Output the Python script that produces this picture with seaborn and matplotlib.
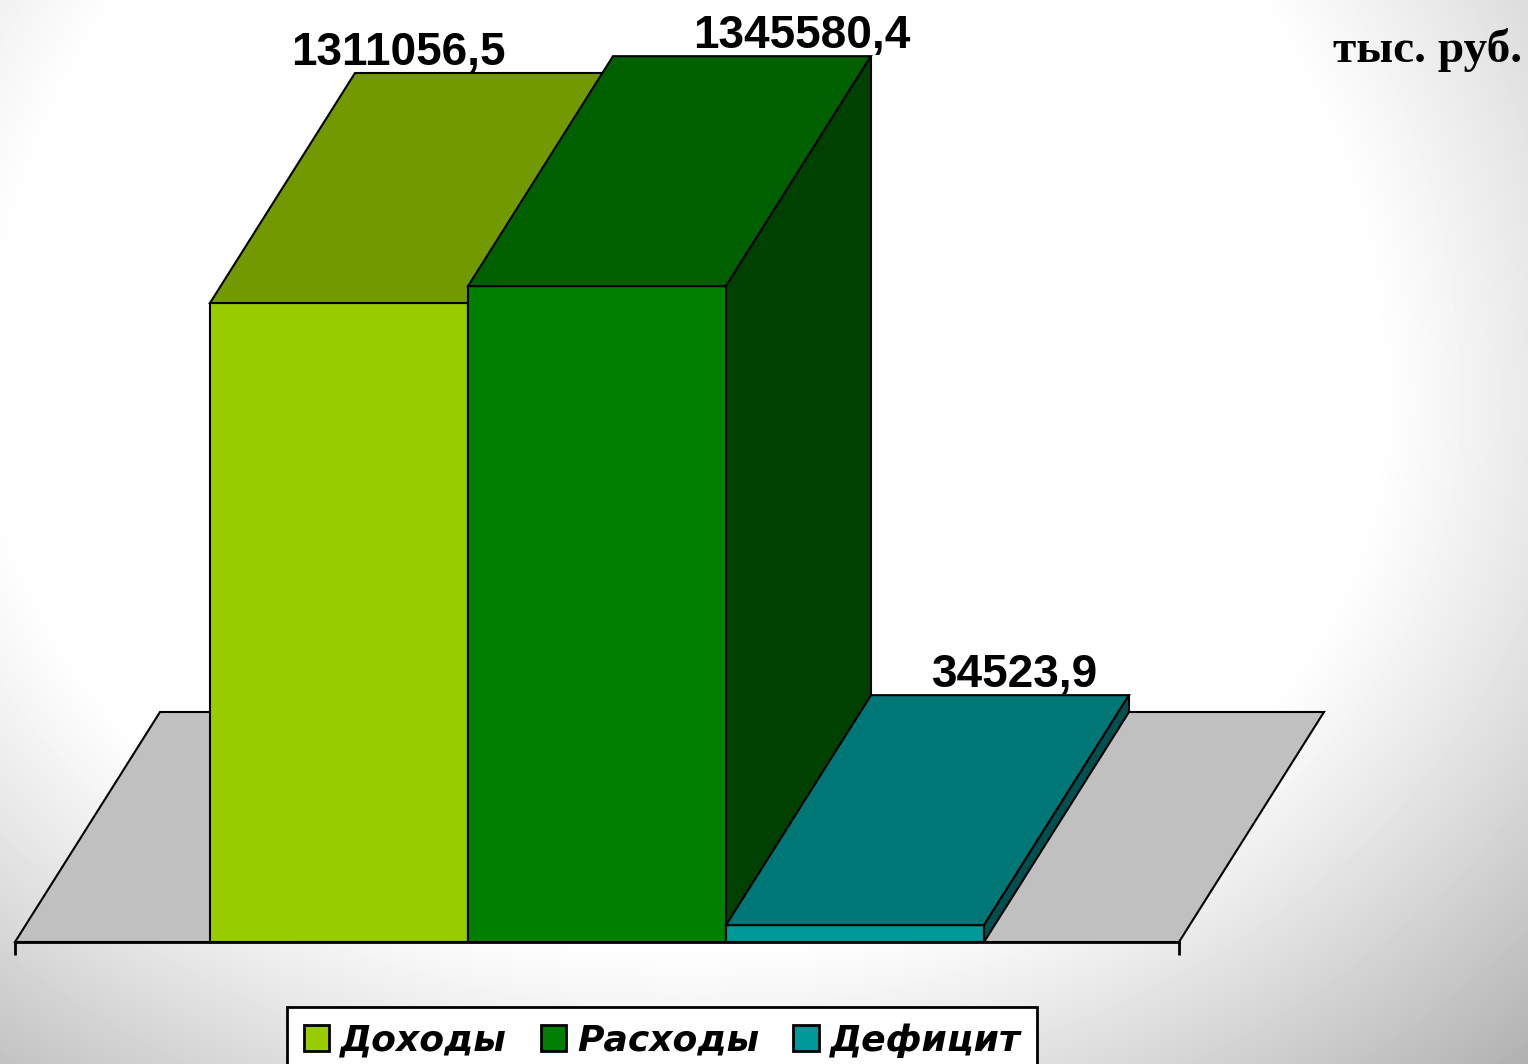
import matplotlib

matplotlib.use("Agg")
import matplotlib.pyplot as plt
import numpy as np
import seaborn as sns
from matplotlib.patches import Patch, Polygon

categories = ["Доходы", "Расходы", "Дефицит"]
values = [1311056.5, 1345580.4, 34523.9]
value_labels = ["1311056,5", "1345580,4", "34523,9"]
unit_label = "тыс. руб."

front_colors = ["#99CC00", "#008000", "#009999"]
top_colors = ["#739900", "#006000", "#007777"]
side_colors = ["#557100", "#004000", "#005050"]
floor_color = "#C0C0C0"

# geometry (pixel based, converted to data units)
W, H = 1528, 1064
px_cat = 258.0                 # pixels per category
px_val = 639.0 / 1311056.5     # pixels per value unit
x0_px, y0_px = 210.0, 942.0    # left edge of first bar, baseline
depth_dx = 145.0 / px_cat
depth_dy = 230.0 / px_val
floor_pad = 195.0 / px_cat
label_shift = [-0.33, 0.23, 0.06]
label_gap = 8.0 / px_val

sns.set_theme(style="white")
plt.rcParams["font.family"] = ["DejaVu Sans"]
plt.rcParams["text.color"] = "black"

fig = plt.figure(figsize=(W / 100, H / 100), dpi=100)

# soft radial gray background, white in the middle
ax_bg = fig.add_axes([0, 0, 1, 1], zorder=0)
yy, xx = np.mgrid[0:1:H * 1j, 0:1:W * 1j]
cx, cy = 0.45, 0.38
u = (xx - cx) / 0.55
v = np.where(yy < cy, (yy - cy) / 0.8, (yy - cy) / 0.62)
r = np.sqrt(u ** 2 + v ** 2)
grad = 1 - 0.31 * np.clip((r - 0.82) / 0.6, 0, 1) ** 1.1
ax_bg.imshow(grad, cmap="gray", vmin=0, vmax=1, aspect="auto")
ax_bg.axis("off")

ax = fig.add_axes([0, 0, 1, 1], zorder=1)
ax.patch.set_alpha(0)

sns.barplot(
    x=categories, y=values, hue=categories, palette=front_colors, width=1.0,
    edgecolor="black", linewidth=1.5, legend=False, saturation=1, ax=ax,
)
bars = list(ax.patches)

ax.set_xlim(-0.5 - x0_px / px_cat, -0.5 + (W - x0_px) / px_cat)
ax.set_ylim(-(H - y0_px) / px_val, y0_px / px_val)

n = len(categories)
fl, fr = -0.5 - floor_pad, n - 0.5 + floor_pad
floor = Polygon(
    [(fl, 0), (fl + depth_dx, depth_dy), (fr + depth_dx, depth_dy), (fr, 0)],
    closed=True, facecolor=floor_color, edgecolor="black", linewidth=1.5, zorder=0.5,
)
ax.add_patch(floor)

for i, bar in enumerate(bars):
    x, w, h = bar.get_x(), bar.get_width(), bar.get_height()
    bar.set_zorder(2 + i)
    top = Polygon(
        [(x, h), (x + depth_dx, h + depth_dy), (x + w + depth_dx, h + depth_dy), (x + w, h)],
        closed=True, facecolor=top_colors[i], edgecolor="black", linewidth=1.5, zorder=2 + i,
    )
    side = Polygon(
        [(x + w, 0), (x + w, h), (x + w + depth_dx, h + depth_dy), (x + w + depth_dx, depth_dy)],
        closed=True, facecolor=side_colors[i], edgecolor="black", linewidth=1.5, zorder=2 + i,
    )
    ax.add_patch(top)
    ax.add_patch(side)
    ax.text(
        x + w / 2 + depth_dx + label_shift[i], h + depth_dy + label_gap, value_labels[i],
        ha="center", va="baseline", fontsize=33, fontweight="bold",
        family="Liberation Sans", color="black", zorder=10,
    )

# axis line along the front floor edge
for s in ["left", "right", "top"]:
    ax.spines[s].set_visible(False)
ax.spines["bottom"].set_position(("data", 0))
ax.spines["bottom"].set_bounds(fl, fr)
ax.spines["bottom"].set_linewidth(2)
ax.spines["bottom"].set_color("black")
ax.spines["bottom"].set_zorder(20)
ax.set_xticks([fl, fr])
ax.set_xticklabels([])
ax.set_yticks([])
ax.tick_params(axis="x", direction="out", length=9.5, width=2, color="black", bottom=True)
ax.set_xlabel("")

fig.text(1522 / W, 1 - 62 / H, unit_label, ha="right", va="baseline", color="black",
         fontsize=34, fontweight="bold", family="Liberation Serif")

handles = [Patch(facecolor=c, edgecolor="black", linewidth=2) for c in front_colors]
leg = fig.legend(
    handles, categories, ncol=3, loc="upper center",
    bbox_to_anchor=(662 / W, 1 - 1007 / H), bbox_transform=fig.transFigure,
    frameon=True, fancybox=False, handlelength=0.7, handleheight=0.7,
    handletextpad=0.3, columnspacing=0.95, borderpad=0.45, borderaxespad=0,
    prop={"family": "DejaVu Sans", "weight": "bold", "style": "italic", "size": 26},
)
leg.get_frame().set_edgecolor("black")
leg.get_frame().set_linewidth(2)
leg.get_frame().set_facecolor("white")
leg.get_frame().set_alpha(1)

fig.savefig("out.png", dpi=100)
